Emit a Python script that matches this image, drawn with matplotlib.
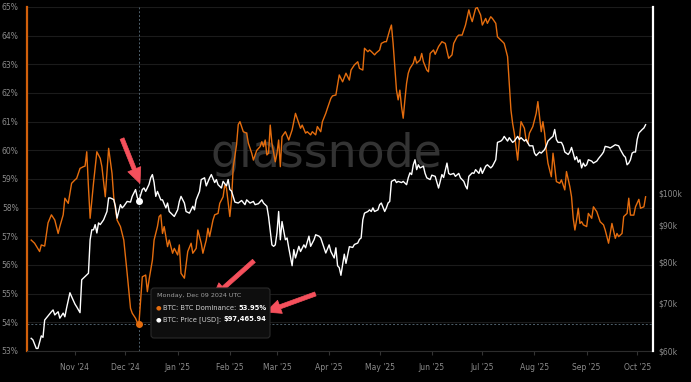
import numpy as np
import pandas as pd
import matplotlib
matplotlib.use("Agg")
import matplotlib.pyplot as plt
import matplotlib.dates as mdates
from matplotlib.patches import FancyBboxPatch

# day offsets from 2024-11-01 and values
dom_days = [-26, -24, -21, -20, -18, -16, -14, -12, -10, -9, -7, -6, -4, -2, 0, 1, 3, 5, 6, 7,
            8, 9, 11, 13, 15, 16, 18, 20, 22, 23, 25, 27, 29, 31, 33, 34, 36, 37, 38, 40,
            42, 43, 44, 46, 47, 49, 50, 51, 52, 53, 55, 56, 58, 59, 61, 62, 63, 65, 66, 67,
            69, 70, 72, 73, 75, 76, 78, 79, 80, 82, 83, 85, 86, 88, 89, 90, 92, 93, 94, 96,
            97, 98, 100, 102, 103, 105, 106, 108, 110, 111, 112, 113, 114, 115, 116, 117, 119, 120, 121, 122,
            123, 125, 127, 129, 131, 133, 134, 135, 137, 138, 140, 141, 143, 144, 146, 147, 149, 150, 152, 153,
            155, 157, 159, 161, 163, 164, 166, 168, 169, 171, 172, 174, 175, 176, 178, 179, 181, 182, 184, 185,
            187, 188, 189, 191, 192, 193, 194, 195, 196, 197, 198, 199, 201, 202, 203, 205, 206, 207, 209, 210,
            211, 213, 214, 216, 218, 220, 222, 224, 225, 227, 228, 230, 232, 234, 235, 236, 238, 239, 241, 242,
            244, 245, 247, 248, 250, 251, 253, 254, 255, 257, 258, 259, 260, 261, 262, 263, 264, 265, 267, 268,
            269, 270, 272, 274, 275, 276, 277, 278, 279, 280, 281, 283, 284, 285, 286, 288, 289, 291, 292, 294,
            295, 296, 297, 298, 299, 300, 301, 302, 304, 305, 307, 308, 310, 311, 312, 314, 315, 317, 318, 319,
            321, 322, 323, 325, 326, 328, 329, 330, 332, 333, 335, 336, 338, 339]
dominance = [56.87, 56.76, 56.47, 56.70, 56.66, 57.47, 57.75, 57.57, 57.10, 57.34, 57.75, 58.33, 58.15, 58.85, 58.97, 59.02, 59.37, 59.43, 59.45, 59.95,
             58.73, 57.63, 58.85, 59.95, 59.72, 59.43, 58.38, 60.07, 59.20, 58.38, 57.57, 57.34, 56.87, 55.71, 54.49, 54.32, 54.14, 54.00, 53.95, 55.59,
             55.65, 55.07, 55.48, 56.17, 56.87, 57.34, 57.69, 57.75, 57.10, 57.34, 56.64, 56.87, 56.41, 56.58, 56.35, 56.70, 55.71, 55.54, 56.00, 56.47,
             56.76, 56.41, 56.58, 57.22, 56.76, 56.41, 56.87, 57.28, 56.99, 57.57, 57.75, 57.80, 58.15, 58.38, 58.79, 58.68, 57.69, 58.27, 59.40, 60.20,
             60.90, 61.00, 60.65, 60.60, 60.25, 59.90, 59.66, 60.00, 60.13, 60.30, 60.13, 60.36, 59.84, 59.90, 60.88, 60.25, 59.60, 59.90, 60.36, 59.43,
             60.48, 60.65, 60.36, 60.71, 61.29, 60.94, 60.77, 60.88, 60.60, 60.65, 60.54, 60.65, 60.54, 60.83, 60.65, 61.00, 61.29, 61.47, 61.81, 61.90,
             61.93, 62.63, 62.39, 62.69, 62.45, 62.80, 62.98, 63.09, 62.86, 62.80, 63.56, 63.44, 63.50, 63.45, 63.33, 63.40, 63.50, 63.73, 63.79, 63.79,
             64.20, 64.37, 63.73, 62.10, 61.76, 62.10, 61.52, 61.12, 61.76, 62.34, 62.69, 62.86, 63.04, 63.27, 63.04, 63.15, 63.38, 63.09, 62.80, 62.74,
             63.38, 63.50, 63.35, 63.62, 63.79, 63.73, 63.21, 63.33, 63.73, 63.96, 64.02, 64.02, 64.37, 64.90, 64.66, 64.49, 64.95, 64.98, 64.72, 64.37,
             64.60, 64.43, 64.66, 64.60, 64.43, 63.96, 63.85, 63.79, 63.73, 63.27, 62.34, 61.41, 60.94, 60.60, 60.13, 59.66, 60.36, 61.00, 60.77, 60.36,
             60.25, 60.60, 60.83, 61.29, 61.70, 61.17, 60.65, 61.00, 60.60, 60.01, 59.55, 59.08, 59.90, 59.43, 58.91, 58.85, 58.97, 58.62, 59.26, 58.73,
             58.38, 57.63, 57.22, 57.57, 57.98, 57.45, 57.51, 57.40, 57.34, 57.80, 57.63, 58.03, 57.86, 57.69, 57.51, 57.40, 57.22, 56.76, 57.10, 57.45,
             56.93, 57.10, 56.99, 57.10, 57.69, 57.80, 58.33, 57.74, 57.74, 58.03, 58.29, 57.98, 58.03, 58.38]

price_days = [-26, -25, -23, -22, -20, -19, -18, -16, -14, -13, -12, -10, -9, -7, -6, -5, -3, -2, 0, 1,
              3, 4, 6, 8, 9, 10, 11, 12, 13, 14, 15, 17, 19, 20, 21, 23, 24, 25, 27, 28,
              29, 31, 33, 34, 36, 37, 38, 40, 41, 42, 44, 45, 46, 47, 48, 49, 51, 52, 54, 55,
              56, 58, 59, 61, 62, 63, 65, 66, 68, 70, 71, 72, 74, 75, 77, 78, 80, 81, 83, 84,
              85, 87, 88, 90, 91, 92, 93, 95, 97, 99, 101, 102, 104, 106, 107, 109, 111, 112, 114, 115,
              117, 118, 119, 120, 121, 122, 123, 125, 126, 127, 129, 130, 131, 133, 134, 136, 137, 139, 140, 142,
              143, 145, 146, 148, 149, 151, 152, 154, 155, 156, 157, 158, 160, 161, 163, 165, 166, 168, 169, 170,
              171, 172, 174, 175, 176, 177, 178, 180, 181, 182, 184, 185, 186, 187, 188, 190, 191, 192, 194, 195,
              197, 198, 199, 200, 201, 202, 203, 204, 205, 207, 208, 209, 211, 212, 214, 215, 216, 218, 219, 221,
              222, 223, 225, 226, 228, 229, 231, 232, 233, 234, 236, 237, 238, 240, 241, 242, 244, 245, 247, 248,
              250, 251, 253, 254, 255, 257, 258, 260, 261, 263, 264, 265, 267, 268, 270, 272, 273, 274, 276, 277,
              279, 280, 281, 283, 284, 285, 286, 287, 289, 290, 291, 293, 294, 295, 296, 297, 298, 299, 300, 301,
              302, 303, 304, 305, 307, 308, 310, 311, 313, 314, 315, 317, 318, 320, 321, 323, 324, 326, 327, 328,
              329, 330, 331, 332, 333, 334, 335, 337, 338, 339]
price_k = [62.5, 62.2, 60.5, 60.5, 63.0, 62.7, 66.3, 67.2, 68.1, 68.5, 67.4, 68.1, 66.7, 67.8, 67.0, 68.9, 72.4, 71.5, 69.8, 69.2,
           67.9, 75.5, 76.3, 77.1, 85.9, 88.7, 88.7, 90.2, 87.8, 90.7, 90.2, 91.6, 94.1, 98.3, 98.3, 97.8, 95.7, 92.1, 96.2, 95.2,
           95.7, 97.2, 97.0, 98.8, 101.0, 98.5, 97.47, 101.0, 101.5, 100.4, 102.7, 104.9, 106.0, 103.3, 98.8, 100.4, 97.7, 97.7, 95.2, 96.7,
           94.1, 93.1, 92.6, 94.6, 97.2, 98.8, 96.7, 94.1, 93.6, 95.7, 94.6, 97.7, 100.4, 104.3, 104.9, 102.2, 104.9, 106.0, 103.3, 104.3,
           102.6, 101.5, 103.7, 102.2, 104.3, 101.0, 100.5, 97.0, 96.7, 97.5, 96.2, 97.7, 96.7, 97.2, 96.2, 96.5, 97.7, 96.7, 95.7, 92.6,
           84.5, 84.1, 84.5, 87.8, 94.1, 85.9, 91.1, 85.9, 86.4, 83.7, 79.0, 83.2, 81.0, 84.1, 82.7, 84.5, 83.7, 86.9, 84.1, 85.9,
           87.3, 86.9, 86.4, 83.7, 82.3, 84.5, 82.7, 81.0, 83.7, 79.0, 78.5, 76.6, 82.0, 79.6, 84.0, 83.8, 84.6, 85.0, 86.0, 86.4,
           91.6, 93.6, 94.1, 94.6, 94.1, 95.2, 94.1, 94.6, 96.2, 96.7, 94.1, 95.2, 96.7, 97.2, 103.7, 104.3, 103.3, 103.7, 103.3, 103.7,
           102.6, 104.9, 106.6, 106.0, 109.4, 111.2, 107.7, 109.4, 108.3, 108.9, 106.4, 104.9, 104.3, 105.8, 105.4, 103.4, 101.5, 106.0, 105.0, 110.0,
           106.4, 106.0, 106.4, 105.4, 106.4, 104.9, 103.7, 102.2, 101.2, 105.4, 106.6, 106.4, 107.7, 106.4, 108.3, 106.4, 108.9, 109.4, 108.3, 108.9,
           111.2, 117.6, 118.1, 118.7, 119.9, 118.1, 119.4, 117.6, 118.1, 119.9, 118.7, 119.4, 118.1, 118.7, 116.3, 116.3, 113.6, 112.7, 114.0, 113.6,
           114.9, 116.3, 118.1, 119.4, 119.9, 122.6, 118.7, 117.6, 117.6, 116.3, 114.0, 113.1, 114.0, 115.7, 113.6, 111.2, 112.3, 110.3, 111.2, 108.3,
           110.0, 108.9, 109.4, 111.2, 110.7, 110.0, 110.7, 111.6, 113.1, 114.0, 116.1, 115.8, 115.5, 116.3, 116.7, 116.3, 114.9, 112.7, 112.1, 109.4,
           110.0, 111.2, 113.6, 114.0, 114.0, 118.7, 121.2, 122.6, 123.2, 124.5]

pct_ticks = list(range(53, 66))
price_ticks = [60000, 70000, 80000, 90000, 100000]
price_labels = ['$60k', '$70k', '$80k', '$90k', '$100k']
hover_day = 38
hover_dom = 53.95
hover_price = 97465.94

base = pd.Timestamp('2024-11-01')
dom_dates = base + pd.to_timedelta(dom_days, unit='D')
price_dates = base + pd.to_timedelta(price_days, unit='D')
price = np.array(price_k) * 1000
hover_date = base + pd.Timedelta(days=hover_day)

orange = '#e56d0e'
grey = '#8c8c8c'

fig = plt.figure(figsize=(6.91, 3.82), dpi=100, facecolor='black')
ax = fig.add_axes([27 / 691, 1 - 351 / 382, 626 / 691, 344 / 382])
ax.set_facecolor('black')
ax2 = ax.twinx()

# grid + axis styling
for v in pct_ticks:
    ax.axhline(v, color='#1b1b1b', lw=0.8, zorder=0)
ax.set_ylim(53, 65)
ax.set_yticks(pct_ticks)
ax.set_yticklabels([f'{v}%' for v in pct_ticks])
ax.tick_params(axis='y', length=0, pad=6, labelsize=5.5, labelcolor=grey)
ax.spines['left'].set_color('#d2600b')
ax.spines['left'].set_linewidth(1.6)
ax.spines['top'].set_visible(False)
ax.spines['right'].set_visible(False)
ax.spines['bottom'].set_color('#2c2c2c')

ax.set_xlim(base - pd.Timedelta(days=28.5), base + pd.Timedelta(days=343.4))
ax.xaxis.set_major_locator(mdates.MonthLocator())
ax.xaxis.set_major_formatter(mdates.DateFormatter("%b '%y"))
ax.tick_params(axis='x', length=3, color='#333333', labelsize=5.5, labelcolor=grey, pad=6)

ax2.set_yscale('log')
ax2.set_ylim(60000, 182000)
ax2.yaxis.set_minor_locator(matplotlib.ticker.NullLocator())
ax2.set_yticks(price_ticks)
ax2.set_yticklabels(price_labels)
ax2.tick_params(axis='y', length=0, pad=4, labelsize=5.5, labelcolor=grey)
ax2.spines['right'].set_color('white')
ax2.spines['right'].set_linewidth(1.6)
for s in ['left', 'top', 'bottom']:
    ax2.spines[s].set_visible(False)

# watermark
ax.text(0.478, 0.57, 'glassnode', transform=ax.transAxes, fontsize=33,
        color='#333333', ha='center', va='center', zorder=1)

# series
ax.plot(dom_dates, dominance, color=orange, lw=1.0, zorder=3)
ax2.plot(price_dates, price, color='white', lw=1.0, zorder=3)

# crosshair
ax.axvline(hover_date, color='#4f606c', lw=0.7, ls=(0, (2, 2)), zorder=2)
ax.axhline(hover_dom, color='#4f606c', lw=0.7, ls=(0, (2, 2)), zorder=2)
ax.plot([hover_date], [hover_dom], 'o', color=orange, ms=4, zorder=5)
ax2.plot([hover_date], [hover_price], 'o', color='white', ms=4, zorder=5)

# tooltip (figure pixel coordinates)
box = FancyBboxPatch((151, 382 - 338), 119, 50, boxstyle='round,pad=0,rounding_size=3',
                     transform=None, facecolor='#0e0e0e', edgecolor='#2a2a2a', lw=0.8, zorder=10)
fig.patches.append(box)
fig.text(157 / 691, 1 - 295 / 382, 'Monday, Dec 09 2024 UTC', fontsize=4.6, color='#a0a0a0',
         va='center', zorder=11)
rows = [(307.5, orange, 'BTC: BTC Dominance: ', '53.95%'),
        (319.5, 'white', 'BTC: Price [USD]: ', '$97,465.94')]
renderer = fig.canvas.get_renderer()
for y, c, label, value in rows:
    fig.text(156 / 691, 1 - y / 382, '\u25cf', fontsize=4.6, color=c, va='center', zorder=11)
    t = fig.text(163 / 691, 1 - y / 382, label, fontsize=4.9, color='#d0d0d0', va='center', zorder=11)
    x_end = t.get_window_extent(renderer).x1
    fig.text(x_end / 691, 1 - y / 382, value, fontsize=4.9, color='white', va='center',
             weight='bold', zorder=11)

# red annotation arrows
arrows = [((121, 136), (141, 186)), ((256, 259), (210, 300)), ((318, 293), (263, 313))]
for (x0, y0), (x1, y1) in arrows:
    ax.annotate('', xy=(x1, 382 - y1), xytext=(x0, 382 - y0),
                xycoords='figure pixels', textcoords='figure pixels',
                arrowprops=dict(arrowstyle='simple,head_length=1.1,head_width=1.0,tail_width=0.3',
                                color='#f5505c', lw=0.5), zorder=12)

fig.savefig('out.png', dpi=100, facecolor='black')
